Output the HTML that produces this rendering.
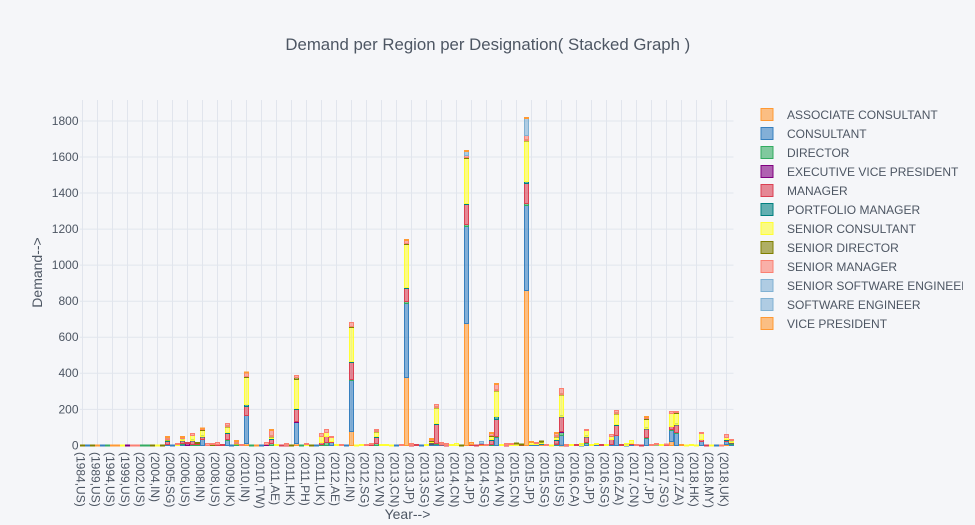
<!DOCTYPE html>
<html lang="en">
<head>
<meta charset="utf-8">
<title>Demand per Region per Designation</title>
<style>
html,body{margin:0;padding:0;background:#F5F6F9;width:975px;height:525px;overflow:hidden}
svg{display:block;font-family:"Liberation Sans",Arial,sans-serif}
text{fill:#4D5663}
</style>
</head>
<body>
<svg id="chart" xmlns="http://www.w3.org/2000/svg" width="975" height="525" viewBox="0 0 975 525">
  <rect x="0" y="0" width="975" height="525" fill="#F5F6F9"/>
  <defs><clipPath id="legend-clip"><rect x="750" y="100" width="213" height="235"/></clipPath></defs>
  <g id="grid"></g>
  <g id="bars"></g>
  <g id="y-ticks" font-size="12"></g>
  <g id="x-ticks" font-size="12"></g>
  <g id="legend" font-size="12" clip-path="url(#legend-clip)"></g>
  <text x="487.8" y="50" text-anchor="middle" font-size="16.8">Demand per Region per Designation( Stacked Graph )</text>
  <text transform="translate(42 272.5) rotate(-90)" text-anchor="middle" font-size="14">Demand--&gt;</text>
  <text x="407.5" y="519" text-anchor="middle" font-size="14">Year--&gt;</text>
</svg>
<script>
const categories = [
"(1984,US)","(1985,US)","(1987,US)","(1989,US)","(1990,US)","(1992,US)",
"(1994,US)","(1995,US)","(1997,US)","(1999,US)","(2000,US)","(2001,US)",
"(2002,US)","(2003,IN)","(2003,US)","(2004,IN)","(2004,SG)","(2005,IN)",
"(2005,SG)","(2005,UK)","(2006,IN)","(2006,US)","(2007,IN)","(2007,US)",
"(2008,IN)","(2008,SG)","(2008,UK)","(2008,US)","(2009,IN)","(2009,SG)",
"(2009,UK)","(2009,US)","(2010,AE)","(2010,IN)","(2010,JP)","(2010,SG)",
"(2010,TW)","(2010,UK)","(2010,US)","(2011,AE)","(2011,CA)","(2011,CN)",
"(2011,HK)","(2011,IN)","(2011,JP)","(2011,PH)","(2011,SG)","(2011,TW)",
"(2011,UK)","(2011,US)","(2011,VN)","(2012,AE)","(2012,CA)","(2012,HK)",
"(2012,IN)","(2012,JP)","(2012,PH)","(2012,SG)","(2012,UK)","(2012,US)",
"(2012,VN)","(2012,ZA)","(2013,AE)","(2013,CN)","(2013,HK)","(2013,IN)",
"(2013,JP)","(2013,MY)","(2013,PH)","(2013,SG)","(2013,UK)","(2013,US)",
"(2013,VN)","(2013,ZA)","(2014,AE)","(2014,CN)","(2014,HK)","(2014,IN)",
"(2014,JP)","(2014,MY)","(2014,PH)","(2014,SG)","(2014,UK)","(2014,US)",
"(2014,VN)","(2014,ZA)","(2015,CA)","(2015,CN)","(2015,HK)","(2015,IN)",
"(2015,JP)","(2015,MY)","(2015,PH)","(2015,SG)","(2015,TH)","(2015,UK)",
"(2015,US)","(2015,VN)","(2015,ZA)","(2016,CA)","(2016,CN)","(2016,IN)",
"(2016,JP)","(2016,MY)","(2016,PH)","(2016,SG)","(2016,UK)","(2016,US)",
"(2016,ZA)","(2017,AE)","(2017,CA)","(2017,CN)","(2017,HK)","(2017,IN)",
"(2017,JP)","(2017,MY)","(2017,PH)","(2017,SG)","(2017,UK)","(2017,US)",
"(2017,ZA)","(2018,CA)","(2018,CN)","(2018,HK)","(2018,IN)","(2018,JP)",
"(2018,MY)","(2018,PH)","(2018,SG)","(2018,UK)","(2018,US)"
];
const yTickValues = [0,200,400,600,800,1000,1200,1400,1600,1800];

const associateConsultant = [
0,0,0,2,0,0,2,2,0,0, 0,0,0,0,0,0,0,0,0,0, 0,0,0,0,0,0,0,0,0,0,
0,0,0,12,0,2,0,0,0,0, 0,0,0,8,0,0,0,0,0,0, 0,0,0,0,76,0,0,0,0,0,
0,0,0,0,0,378,0,0,0,0, 0,0,0,0,0,0,0,675,0,0, 4,0,0,0,0,0,0,0,0,860,
0,0,6,0,0,0,2,0,0,0, 0,0,0,0,0,0,0,0,0,0, 0,0,0,0,0,0,0,0,24,0,
3,0,0,0,0,0,0,0,0,3, 0];
const consultant = [
0,2,0,0,2,0,0,0,0,0, 0,0,0,0,0,0,0,4,2,0, 6,0,0,0,32,0,0,0,0,26,
2,0,0,153,0,0,2,0,0,0, 0,0,0,119,0,0,0,2,0,0, 15,0,0,2,285,0,0,0,0,0,
0,0,0,2,0,412,0,0,2,0, 3,5,3,0,0,0,0,540,0,0, 0,0,0,44,0,0,0,0,0,470,
5,6,3,0,0,4,55,0,0,0, 2,10,0,3,0,0,5,57,0,2, 6,0,0,39,0,3,0,0,57,68,
0,0,0,0,20,0,0,2,0,17, 5];
const director = [
0,0,0,0,0,2,0,0,0,0, 0,0,2,2,0,0,0,0,0,0, 3,0,5,5,0,0,0,0,0,4,
0,6,0,0,2,0,0,0,10,0, 0,0,0,0,2,0,0,0,6,15, 0,0,0,0,6,0,0,0,0,8,
0,0,0,0,0,8,0,0,0,0, 5,5,0,0,0,0,0,8,0,0, 0,0,5,8,0,0,0,0,0,13,
0,0,0,0,0,2,13,0,0,0, 0,8,0,0,0,0,0,0,0,0, 0,0,0,5,0,0,0,0,8,6,
0,0,0,0,0,0,0,0,0,0, 3];
const executiveVicePresident = [
0,0,0,0,0,0,0,0,0,2, 0,0,0,0,0,0,0,0,0,0, 0,8,0,0,0,0,0,0,0,0,
0,0,0,0,0,0,0,3,0,0, 0,0,0,8,0,0,0,0,0,0, 0,0,0,0,0,0,0,0,0,0,
0,0,0,0,0,0,0,0,0,0, 2,0,0,0,0,0,0,0,0,0, 0,0,0,0,0,0,0,0,0,0,
0,0,0,0,0,0,6,0,0,0, 0,0,0,0,0,0,0,0,0,0, 0,0,0,0,0,0,0,0,0,0,
0,0,0,0,0,0,0,0,0,0, 0];
const manager = [
0,0,0,0,0,0,0,0,0,0, 0,0,0,0,0,0,0,20,0,0, 18,6,22,3,15,0,0,4,3,38,
0,0,0,53,0,0,0,0,23,0, 2,2,0,65,0,0,0,0,8,37, 4,0,0,0,92,0,0,0,3,38,
0,0,0,0,0,75,2,3,0,0, 5,107,2,2,0,0,0,115,3,2, 5,0,23,92,0,2,0,0,3,111,
0,0,0,0,0,21,83,2,0,3, 0,30,0,0,3,0,25,56,3,0, 6,0,2,47,0,0,0,3,18,41,
0,0,0,0,15,2,0,0,0,8, 6];
const portfolioManager = [
0,0,0,0,0,0,0,0,0,0, 0,0,0,0,0,0,0,2,0,0, 2,0,2,0,2,0,0,0,0,3,
0,0,0,8,0,0,0,0,6,0, 0,0,0,5,0,0,0,0,0,0, 0,0,0,0,6,0,0,0,0,4,
0,0,0,0,0,2,0,0,0,0, 3,5,0,0,0,0,0,6,0,0, 0,0,3,15,0,0,0,0,0,9,
0,0,3,0,0,3,3,0,0,0, 0,3,0,0,0,0,0,2,0,0, 0,0,0,2,0,0,0,0,0,3,
0,0,0,0,0,0,0,0,0,2, 2];
const seniorConsultant = [
0,0,0,0,0,0,0,0,2,0, 0,0,0,0,0,2,0,4,0,4, 9,0,27,0,35,0,0,0,0,33,
0,5,0,150,0,0,0,0,8,3, 0,0,0,163,0,3,0,0,38,18, 24,3,0,0,190,2,5,0,0,26,
3,3,2,0,0,240,0,0,0,3, 5,87,0,0,4,10,0,248,0,0, 0,0,20,143,3,0,3,10,0,228,
10,5,7,0,2,20,121,0,5,0, 6,29,3,8,0,4,22,60,0,8, 16,0,0,53,0,3,5,0,71,60,
0,2,4,2,33,0,1,0,0,15, 11];
const seniorDirector = [
2,0,2,0,0,0,0,0,0,0, 0,0,0,0,2,0,2,2,0,0, 0,0,0,10,2,0,3,0,0,3,
0,2,0,4,0,0,0,0,3,0, 0,0,2,6,0,0,2,0,0,0, 0,0,0,0,4,0,0,0,0,1,
0,0,0,0,0,3,0,0,0,0, 4,3,0,0,0,0,2,4,0,0, 0,0,2,5,0,0,0,2,2,3,
0,0,4,0,0,2,2,0,0,0, 0,0,0,0,0,0,0,3,0,0, 0,0,0,2,0,0,0,0,0,2,
0,0,0,0,0,0,0,0,0,0, 0];
const seniorManager = [
0,0,0,0,0,0,0,0,0,0, 2,2,0,0,0,0,0,14,0,4, 7,0,11,0,7,8,5,10,0,17,
0,8,3,22,0,0,0,14,30,0, 0,6,0,16,0,6,0,0,13,19, 5,0,3,0,25,0,0,5,8,12,
0,0,0,0,3,21,8,0,0,0, 5,16,10,8,0,0,0,15,0,0, 0,3,13,30,0,10,5,0,0,24,
0,7,0,3,0,14,28,4,0,0, 0,9,0,0,0,0,11,18,0,0, 0,3,0,8,3,5,0,4,9,10,
0,0,0,0,4,0,0,0,2,18, 8];
const seniorSoftwareEngineer = [
0,0,0,0,0,0,0,0,0,0, 0,0,0,0,0,0,0,0,0,0, 0,0,0,0,0,0,0,0,0,0,
0,0,0,0,0,0,0,0,0,0, 0,0,0,0,0,0,0,0,0,0, 0,0,0,0,0,0,0,0,0,0,
0,0,0,0,0,0,0,0,0,0, 0,0,0,0,0,0,0,20,0,0, 13,0,0,0,0,0,0,0,0,96,
0,0,0,0,0,0,0,0,0,0, 0,0,0,0,0,0,0,0,0,0, 0,0,0,0,0,0,0,0,0,0,
0,0,0,0,0,0,0,0,0,0, 0];
const softwareEngineer = [
0,0,0,0,0,0,0,0,0,0, 0,0,0,0,0,0,0,0,0,0, 0,0,0,0,0,0,0,0,0,0,
0,0,0,0,0,0,0,0,0,0, 0,0,0,0,0,0,0,0,0,0, 0,0,0,0,0,0,0,0,0,0,
0,0,0,0,0,0,0,0,0,0, 0,0,0,0,0,0,0,0,0,0, 0,0,0,0,0,0,0,0,0,0,
0,0,0,0,0,0,0,0,0,0, 0,0,0,0,0,0,0,0,0,0, 0,0,0,0,0,0,0,0,0,0,
0,0,0,0,0,0,0,0,0,0, 0];
const vicePresident = [
0,0,0,0,0,0,0,0,0,0, 0,0,0,0,0,0,0,6,0,0, 7,0,0,0,3,0,0,0,0,0,
0,4,0,3,0,0,0,0,10,0, 0,0,0,0,0,0,0,0,0,0, 0,0,0,0,0,0,0,0,0,0,
0,0,0,0,0,6,0,0,0,0, 6,0,0,0,0,0,0,6,12,0, 0,0,8,4,0,0,0,0,0,6,
9,0,0,0,0,6,0,0,0,0, 0,0,0,0,0,0,0,0,0,0, 0,0,0,7,0,0,0,0,0,0,
0,0,0,0,0,0,0,0,0,0, 0];

const seriesNames = ["ASSOCIATE CONSULTANT","CONSULTANT","DIRECTOR","EXECUTIVE VICE PRESIDENT","MANAGER","PORTFOLIO MANAGER","SENIOR CONSULTANT","SENIOR DIRECTOR","SENIOR MANAGER","SENIOR SOFTWARE ENGINEER","SOFTWARE ENGINEER","VICE PRESIDENT"];
const seriesValues = [associateConsultant,consultant,director,executiveVicePresident,manager,portfolioManager,seniorConsultant,seniorDirector,seniorManager,seniorSoftwareEngineer,softwareEngineer,vicePresident];
const seriesColors = ["255,153,51","55,128,191","50,171,96","128,0,128","219,64,82","0,128,128","255,255,51","128,128,0","251,128,114","128,177,211","128,177,211","255,153,51"];

const NS = "http://www.w3.org/2000/svg";
const plotLeft = 79.8, plotRight = 733.5, plotTop = 100, plotBottom = 445;
const yZero = 445.4, pxPerUnit = 0.18025;
const catStep = (plotRight - plotLeft) / categories.length;
const xScale = i => plotLeft + catStep * (i + 0.5);
const yScale = v => yZero - v * pxPerUnit;
const slug = s => s.toLowerCase().replace(/[^a-z0-9]+/g, "-");
const make = (tag, parent, attrs) => {
  const el = document.createElementNS(NS, tag);
  for (const k in attrs) el.setAttribute(k, attrs[k]);
  parent.appendChild(el);
  return el;
};
const gridG = document.getElementById("grid");
const barsG = document.getElementById("bars");
const yG = document.getElementById("y-ticks");
const xG = document.getElementById("x-ticks");
const legendG = document.getElementById("legend");

categories.forEach((label, i) => {
  if (i % 3 !== 0) return;
  const x = Math.round(xScale(i) - 0.5) + 0.5;
  const line = make("line", gridG, {x1: x, x2: x, y1: plotTop, y2: plotBottom, stroke: "#E1E5ED", "stroke-width": 1});
  
  
  const t = make("text", xG, {transform: "translate(" + (xScale(i) - 6) + " 452) rotate(90)"});
  t.textContent = label;
  
  
});

yTickValues.forEach(v => {
  const y = yScale(v);
  const line = make("line", gridG, {x1: plotLeft, x2: plotRight, y1: y, y2: y, stroke: "#E1E5ED", "stroke-width": 1});
  
  
  const t = make("text", yG, {x: 78.5, y: y + 3.9, "text-anchor": "end"});
  t.textContent = String(v);
  
  
});

categories.forEach((label, i) => {
  let cum = 0;
  const cx = xScale(i);
  const left = Math.round(cx - 2 - 0.5) + 0.5;
  seriesValues.forEach((values, s) => {
    const v = values[i];
    if (!v) return;
    const y1 = yScale(cum);
    const y2 = yScale(cum + v);
    cum += v;
    let top = Math.round(y2 - 0.5) + 0.5;
    let bottom = Math.round(y1 - 0.5) + 0.5;
    if (bottom - top < 1) { top = Math.floor(y2); bottom = Math.ceil(y1); if (bottom - top < 1) bottom = top + 1; }
    const r = make("rect", barsG, {x: left, y: top, width: 4, height: bottom - top, fill: "rgba(" + seriesColors[s] + ",0.6)", stroke: "rgb(" + seriesColors[s] + ")", "stroke-width": 1});
    
    
  });
});

seriesNames.forEach((name, s) => {
  const y = 114.5 + 19 * s;
  const swatch = make("rect", legendG, {x: 761, y: y - 6, width: 12, height: 12, fill: "rgba(" + seriesColors[s] + ",0.6)", stroke: "rgb(" + seriesColors[s] + ")", "stroke-width": 1});
  
  
  const t = make("text", legendG, {x: 787, y: y + 4.5});
  t.textContent = name;
  
  
});
</script>
</body>
</html>
